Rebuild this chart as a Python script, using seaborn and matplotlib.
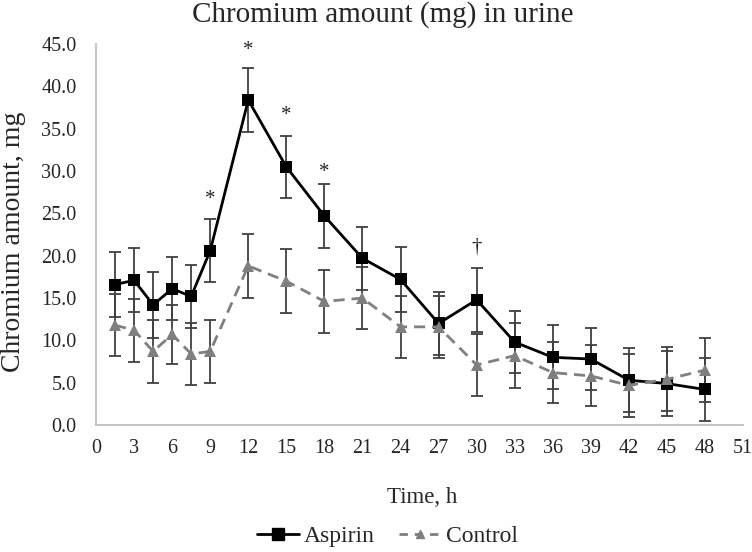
import numpy as np
import pandas as pd
import matplotlib
matplotlib.use("Agg")
import matplotlib.pyplot as plt
import seaborn as sns

time_h = [1.5, 3, 4.5, 6, 7.5, 9, 12, 15, 18, 21, 24, 27, 30, 33, 36, 39, 42, 45, 48]
aspirin = [16.6, 17.1, 14.2, 16.1, 15.2, 20.6, 38.4, 30.5, 24.7, 19.7, 17.2, 12.0, 14.8, 9.8, 8.0, 7.8, 5.3, 4.9, 4.2]
aspirin_err = [3.8, 3.8, 3.9, 3.7, 3.7, 3.7, 3.8, 3.7, 3.8, 3.75, 3.8, 3.7, 3.8, 3.7, 3.8, 3.7, 3.8, 3.8, 3.7]
control = [11.8, 11.2, 8.7, 10.7, 8.4, 8.7, 18.8, 17.0, 14.6, 15.0, 11.6, 11.6, 7.1, 8.2, 6.2, 5.8, 4.7, 5.4, 6.5]
control_err = [3.7, 3.7, 3.7, 3.5, 3.7, 3.7, 3.8, 3.75, 3.7, 3.7, 3.7, 3.7, 3.7, 3.8, 3.6, 3.6, 3.7, 3.8, 3.8]

sig_x = [9, 12, 15, 18, 30]
sig_y = [26.6, 44.3, 36.6, 29.8, 21.0]
sig_marks = ["*", "*", "*", "*", "\u2020"]

sns.set_style("white")
plt.rcParams["font.family"] = ["Liberation Serif", "DejaVu Serif"]

df = pd.DataFrame({
    "time": time_h * 2,
    "amount": aspirin + control,
    "group": ["Aspirin"] * len(time_h) + ["Control"] * len(time_h),
})

fig = plt.figure(figsize=(7.52, 5.52), dpi=100)
ax = fig.add_axes([0.1277, 0.23, 0.8604, 0.69])

# error bars first so the markers sit on top
ax.errorbar(time_h, aspirin, yerr=aspirin_err, fmt="none", ecolor="#404040",
            elinewidth=1.3, capsize=4, capthick=1.3, zorder=1)
ax.errorbar(time_h, control, yerr=control_err, fmt="none", ecolor="#404040",
            elinewidth=1.3, capsize=4, capthick=1.3, zorder=1)

sns.lineplot(data=df, x="time", y="amount", hue="group", style="group",
             palette={"Aspirin": "black", "Control": "#7f7f7f"},
             markers={"Aspirin": "s", "Control": "^"},
             dashes={"Aspirin": "", "Control": (4, 2.5)},
             markersize=8.5, linewidth=2, markeredgewidth=0, ax=ax, zorder=3,
             legend=False)

for x, y, m in zip(sig_x, sig_y, sig_marks):
    ax.text(x, y, m, ha="center", va="center", fontsize=15)

ax.set_xlim(0, 51)
ax.set_ylim(0, 45)
ax.set_xticks(range(0, 52, 3))
ax.set_yticks(np.arange(0, 46, 5))
ax.set_yticklabels([f"{v:.1f}" for v in np.arange(0, 46, 5)])
ax.tick_params(labelsize=14.5, length=0)
ax.tick_params(axis="y", pad=14)
ax.tick_params(axis="x", pad=10)
for side in ["top", "right"]:
    ax.spines[side].set_visible(False)
for side in ["left", "bottom"]:
    ax.spines[side].set_color("#bfbfbf")
    ax.spines[side].set_linewidth(1.3)
ax.set_xlabel("")
ax.set_ylabel("")

fig.text(383 / 752, 1 - 22 / 552, "Chromium amount (mg) in urine", fontsize=21,
         ha="center", va="baseline")
fig.text(422 / 752, 1 - 503 / 552, "Time, h", fontsize=16.5, ha="center", va="baseline")
fig.text(14 / 752, 1 - 242 / 552, "Chromium amount, mg", fontsize=20, rotation=90,
         ha="center", va="center")

handles = [
    plt.Line2D([], [], color="black", marker="s", linewidth=2, markersize=8.5),
    plt.Line2D([], [], color="#7f7f7f", marker="^", linestyle=(0, (3, 2.5)),
               linewidth=2, markersize=6),
]
fig.legend(handles, ["Aspirin", "Control"], loc="center", bbox_to_anchor=(0.515, 0.028),
           ncol=2, frameon=False, fontsize=17, handlelength=1.8, columnspacing=1.0,
           handletextpad=0.2, borderaxespad=0, borderpad=0)

fig.savefig("out.png", dpi=100)
